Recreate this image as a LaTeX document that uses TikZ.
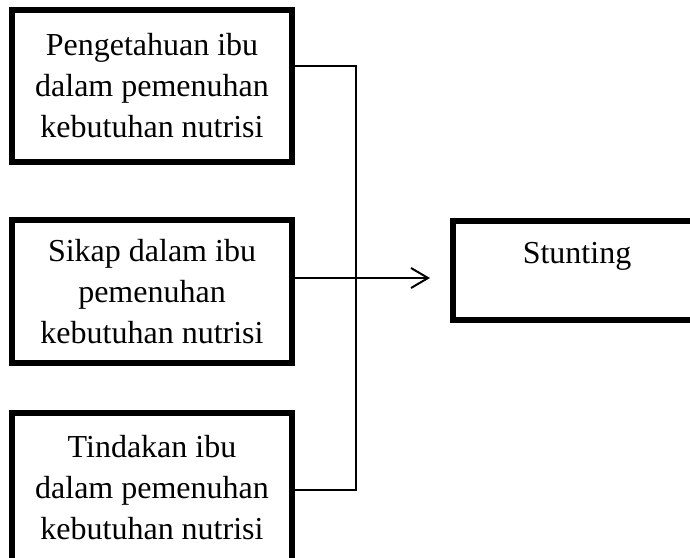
\documentclass[tikz,border=0pt]{standalone}
\usepackage{fontspec}
\setmainfont{Liberation Serif}
\usetikzlibrary{arrows.meta}

\tikzset{
  factor/.style={draw, line width=6pt, minimum width=280pt, minimum height=152pt,
    inner sep=0pt, align=center, font=\fontsize{32}{41}\selectfont},
  outcome/.style={draw, line width=6pt, minimum width=248pt, inner sep=0pt,
    text height=42pt, text depth=57pt, font=\fontsize{32}{41}\selectfont},
  link/.style={line width=1.5pt},
}

\begin{document}
\begin{tikzpicture}[x=1pt,y=-1pt]
	\useasboundingbox (0,0) rectangle (690,557);
	\clip (0,0) rectangle (690,557);
	\node[factor] (tahu) at (152,86) {Pengetahuan ibu\\dalam pemenuhan\\kebutuhan nutrisi};
	\node[factor, minimum height=143pt] (sikap) at (152,291.5) {Sikap dalam ibu\\pemenuhan\\kebutuhan nutrisi};
	\node[factor, minimum height=149pt] (tindak) at (152,487.5) {Tindakan ibu\\dalam pemenuhan\\kebutuhan nutrisi};
	\node[outcome, anchor=base] (stunt) at (577,263) {Stunting};
	\coordinate (atas) at (356,66);
	\coordinate (bawah) at (356,490);
	\coordinate (ujung) at (430,278);
	\draw[link] (tahu.east |- atas) -- (atas) -- (bawah) -- (tindak.east |- bawah);
	\draw[link, line width=2pt, -{Straight Barb[length=17pt,width=20pt]}] (sikap.east |- ujung) -- (ujung);
\end{tikzpicture}
\end{document}
